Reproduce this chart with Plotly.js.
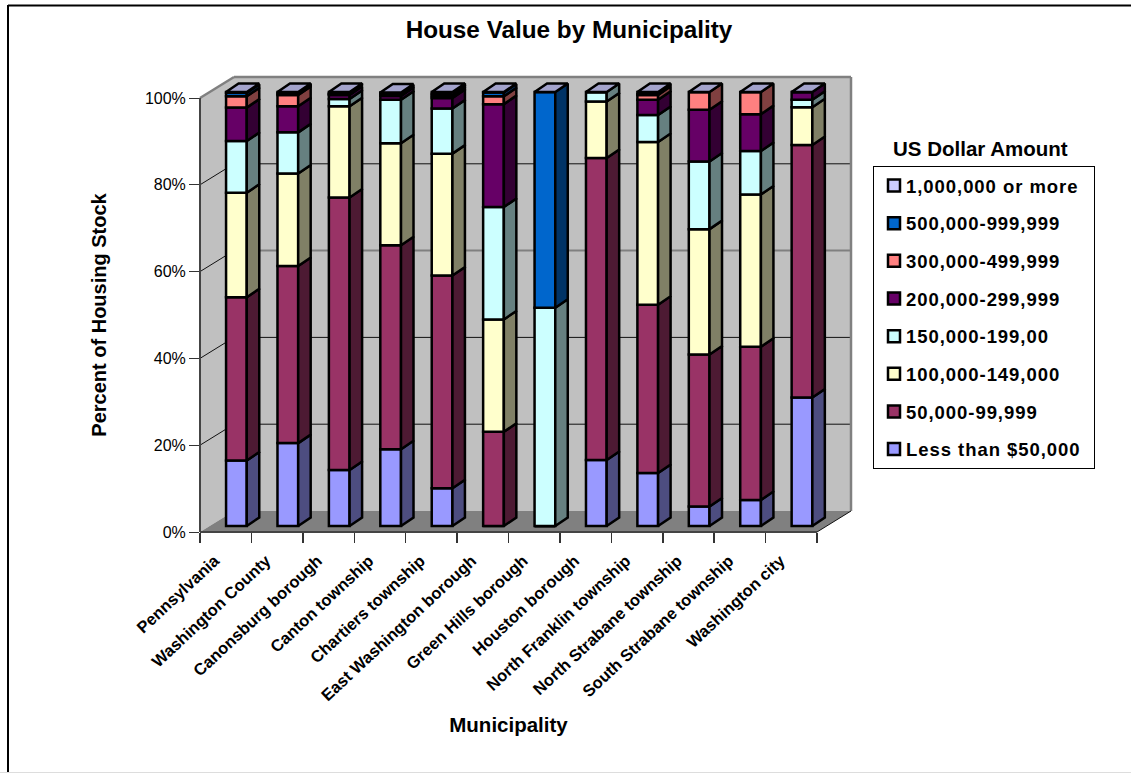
<!DOCTYPE html>
<html><head><meta charset="utf-8">
<script src="https://cdn.plot.ly/plotly-3.0.1.min.js"></script>
<style>html,body{margin:0;padding:0;background:#fff}
.legendtext{letter-spacing:0.95px;transform:translateX(-8px)}
</style>
</head><body><div id="chart" style="width:1131px;height:773px"></div>
<script>
const categories = ["Pennsylvania","Washington County","Canonsburg borough","Canton township","Chartiers township","East Washington borough","Green Hills borough","Houston borough","North Franklin township","North Strabane township","South Strabane township","Washington city"];
const seriesNames = ["Less than $50,000","50,000-99,999","100,000-149,000","150,000-199,00","200,000-299,999","300,000-499,999","500,000-999,999","1,000,000 or more"];
const under50k   = [15.1,19.1,12.9,17.7,8.7,0,0,15.2,12.2,4.5,6.0,29.6];
const from50k    = [37.6,40.8,62.8,47.0,49.0,21.7,0,69.6,38.8,35.0,35.3,58.2];
const from100k   = [24.1,21.3,21.0,23.5,28.1,25.9,0,13.0,37.5,28.9,35.1,8.7];
const from150k   = [11.9,9.5,1.7,10.0,10.4,25.9,50.3,2.2,6.2,15.6,10.0,1.7];
const from200k   = [7.7,6.0,0.9,0.9,2.4,23.7,0,0,3.5,11.9,8.5,1.8];
const from300k   = [2.6,2.6,0.2,0.1,0.5,1.8,0,0,1.1,4.1,5.1,0];
const from500k   = [0.8,0.4,0.2,0.5,0.5,0.9,49.7,0,0.2,0,0,0];
const over1m     = [0.2,0.3,0.3,0.2,0.4,0.1,0,0,0.5,0,0,0];
const allSeries  = [under50k,from50k,from100k,from150k,from200k,from300k,from500k,over1m];
const frontColors= ["#9999ff","#993366","#ffffcc","#ccffff","#660066","#ff8080","#0066cc","#ccccff"];
const sideColors = ["#4d4d80","#4d1a33","#808066","#668080","#330033","#804040","#003366","#666680"];
const topColor   = "#a3a3cc";
const pctTicks   = [0,20,40,60,80,100];

const W=1131,H=773, L=200,R=817,T=98,B=532, wideR=856, wideT=72;
const ux=(R-L)/12, uy=(B-T)/100;
// depth projection of the 3D look, in axis units
const wallDx=34/ux, wallDy=21/uy, barDx=12.5/ux, barDy=8.5/uy, liftX=10.7/ux, liftY=6/uy;
const barW=20.7/ux, edge=2.5;
const pxX=u=>(L+u*ux)/W, pxY=v=>1-(B-v*uy)/H;

const traces=[{type:"scatter",x:[null],y:[null],mode:"lines",showlegend:false,hoverinfo:"skip",xaxis:"x",yaxis:"y"}];
const centers=categories.map((c,i)=>i+0.5+liftX);
const running=categories.map(()=>liftY);
allSeries.forEach((vals,s)=>{
  const base=running.slice();
  const sx=[],sy=[];
  vals.forEach((v,i)=>{
    running[i]+=v;
    if(v>0){
      const xr=centers[i]+barW/2, a=base[i], b=running[i];
      sx.push(xr,xr+barDx,xr+barDx,xr,xr,null);
      sy.push(a,a+barDy,b+barDy,b,a,null);
    }
  });
  traces.push({type:"bar",name:seriesNames[s],x:centers,y:vals,base:base,width:barW,xaxis:"x2",yaxis:"y2",
    legendgroup:"g"+s,legendrank:100-s,hoverinfo:"skip",
    marker:{color:frontColors[s],line:{color:"#000",width:edge}}});
  traces.push({type:"scatter",mode:"lines",x:sx,y:sy,fill:"toself",fillcolor:sideColors[s],xaxis:"x2",yaxis:"y2",
    line:{color:"#000",width:edge},showlegend:false,hoverinfo:"skip"});
});
const tx=[],ty=[];
categories.forEach((c,i)=>{
  const xl=centers[i]-barW/2, xr=centers[i]+barW/2, t=running[i];
  tx.push(xl,xr,xr+barDx,xl+barDx,xl,null);
  ty.push(t,t,t+barDy,t+barDy,t,null);
});
traces.push({type:"scatter",mode:"lines",x:tx,y:ty,fill:"toself",fillcolor:topColor,xaxis:"x2",yaxis:"y2",
  line:{color:"#000",width:edge},showlegend:false,hoverinfo:"skip"});

const poly=(pts,fill,line,w)=>({type:"path",xref:"paper",yref:"paper",layer:"below",
  path:"M"+pts.map(p=>pxX(p[0])+","+pxY(p[1])).join("L")+"Z",fillcolor:fill,line:{color:line,width:w}});
const seg=(x0,y0,x1,y1,c,w)=>({type:"line",xref:"paper",yref:"paper",layer:"below",
  x0:pxX(x0),y0:pxY(y0),x1:pxX(x1),y1:pxY(y1),line:{color:c,width:w}});
const fr=(x0,y0,x1,y1,c,w)=>({type:"line",xref:"paper",yref:"paper",layer:"below",
  x0:x0/W,y0:1-y0/H,x1:x1/W,y1:1-y1/H,line:{color:c,width:w}});
const shapes=[
  poly([[0,0],[wallDx,wallDy],[wallDx,100+wallDy],[0,100]],"#c0c0c0","#c0c0c0",0),
  poly([[wallDx,wallDy],[12+wallDx,wallDy],[12+wallDx,100+wallDy],[wallDx,100+wallDy]],"#c0c0c0","#c0c0c0",0),
  poly([[0,0],[12,0],[12+wallDx,wallDy],[wallDx,wallDy]],"#808080","#808080",0),
];
pctTicks.filter(p=>p>0&&p<100).forEach(p=>{
  const c=p===60?"#808080":"#111", w=p===60?2:1;
  shapes.push(seg(0,p,wallDx,p+wallDy,"#111",1));
  shapes.push(seg(wallDx,p+wallDy,12+wallDx,p+wallDy,c,w));
});
shapes.push(seg(0,100,wallDx,100+wallDy,"#808080",2.5));
shapes.push(seg(wallDx,100+wallDy,12+wallDx,100+wallDy,"#808080",2.5));
shapes.push(seg(12+wallDx,100+wallDy,12+wallDx,wallDy,"#808080",2.5));
shapes.push(seg(12,0,12+wallDx,wallDy,"#111",1));
shapes.push(seg(0,0,0,100,"#444",2));
shapes.push(seg(0,0,12,0,"#444",2));
// page frame
shapes.push(fr(8,5.5,1131,5.5,"#000",2));
shapes.push(fr(8,5,8,773,"#000",2));
shapes.push(fr(0,772.5,1131,772.5,"#ddd",1));

const font="'Liberation Sans', Arial, sans-serif";
const layout={
  width:W,height:H,autosize:false,margin:{l:0,r:0,t:0,b:0},
  paper_bgcolor:"#fff",plot_bgcolor:"rgba(0,0,0,0)",barmode:"overlay",
  font:{family:font,color:"#000",size:14},
  title:{text:"<b>House Value by Municipality</b>",font:{family:font,size:24.3,color:"#000"},
    x:569/W,xref:"paper",xanchor:"center",y:1-29/H,yref:"paper",yanchor:"middle"},
  xaxis:{domain:[L/W,R/W],range:[0,12],type:"linear",anchor:"y",tickmode:"array",
    tickvals:categories.map((c,i)=>i+0.5),ticktext:categories.map(c=>"<b>"+c+"</b>"),tickangle:-43,
    ticklabelstandoff:15,ticklabelshift:-11,
    tickfont:{family:font,size:16.5,color:"#000"},ticks:"",showgrid:false,zeroline:false,showline:false,
    minor:{tickmode:"array",tickvals:categories.map((c,i)=>i).concat([categories.length]),ticks:"outside",ticklen:10,tickwidth:1.5,tickcolor:"#333",showgrid:false},
    title:{text:"<b>Municipality</b>",font:{family:font,size:20.5,color:"#000"},standoff:14}},
  yaxis:{domain:[1-B/H,1-T/H],range:[0,100],anchor:"x",tickmode:"array",tickvals:pctTicks,ticktext:pctTicks.map(p=>p+"%"),
    tickfont:{family:font,size:16,color:"#000"},ticks:"outside",ticklen:10,tickwidth:1,tickcolor:"#333",
    showgrid:false,zeroline:false,showline:false,
    title:{text:"<b>Percent of Housing Stock</b>",font:{family:font,size:20,color:"#000"},standoff:32}},
  xaxis2:{domain:[L/W,wideR/W],range:[0,(wideR-L)/ux],anchor:"y2",visible:false,fixedrange:true},
  yaxis2:{domain:[1-B/H,1-wideT/H],range:[0,(B-wideT)/uy],anchor:"x2",visible:false,fixedrange:true},
  showlegend:true,
  legend:{x:873/W,xanchor:"left",y:1-166/H,yanchor:"top",traceorder:"grouped",tracegroupgap:10.6,
    bordercolor:"#000",borderwidth:1,bgcolor:"#fff",font:{family:font,size:18.5,color:"#000",weight:"bold"},itemclick:false,itemdoubleclick:false},
  annotations:[{xref:"paper",yref:"paper",x:980/W,y:1-148/H,xanchor:"center",yanchor:"middle",showarrow:false,
    text:"<b>US Dollar Amount</b>",font:{family:font,size:20.5,color:"#000"}}],
  shapes:shapes
};
Plotly.newPlot("chart",traces,layout,{staticPlot:true,displayModeBar:false});
</script></body></html>
